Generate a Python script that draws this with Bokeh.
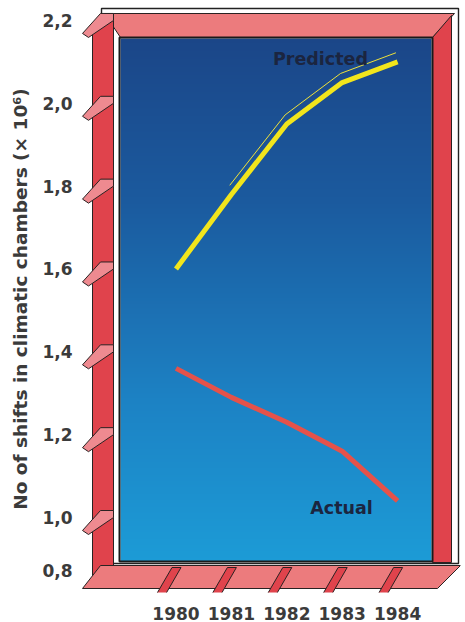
import numpy as np
from bokeh.plotting import figure
from bokeh.models import Range1d, FixedTicker
from bokeh.core.properties import value
from bokeh.embed import file_html
from bokeh.resources import INLINE

# ---------------- data ----------------
years = [1980, 1981, 1982, 1983, 1984]
year_labels = ["1980", "1981", "1982", "1983", "1984"]
predicted = [1.60, 1.78, 1.95, 2.05, 2.10]
actual = [1.36, 1.29, 1.23, 1.16, 1.04]
y_tick_values = [0.8, 1.0, 1.2, 1.4, 1.6, 1.8, 2.0, 2.2]
y_tick_labels = ["0,8", "1,0", "1,2", "1,4", "1,6", "1,8", "2,0", "2,2"]
series_names = ["Predicted", "Actual"]
y_title = "No of shifts in climatic chambers (\u00d7 10\u2076)"

# ---------------- layout helpers (pixel -> data) ----------------
PX_PER_YEAR = 55.4
PX_1980 = 175.5
PX_PER_UNIT = 414.2
PY_ONE = 517.0


def X(px):
    return 1980 + (px - PX_1980) / PX_PER_YEAR


def Y(py):
    return 1.0 + (PY_ONE - py) / PX_PER_UNIT


FLOOR_VALUE = Y(570)  # the "0,8" sits on the floor of the box

FONT = "DejaVu Sans"
TXT = "#3b3b3b"
EDGE = "#2a2222"
RED = "#e0434c"
PINK = "#ec7b7d"
SHELF = "#ee8a90"

p = figure(width=465, height=622,
           x_range=Range1d(X(80), X(460)), y_range=Range1d(Y(592), Y(5)),
           output_backend="svg", toolbar_location=None,
           min_border_left=80, min_border_right=5, min_border_top=5,
           min_border_bottom=30, outline_line_color=None,
           background_fill_color="white", border_fill_color="white")
p.grid.visible = False


def poly(pts, fill, line=EDGE, lw=1.0):
    p.patch([X(a) for a, b in pts], [Y(b) for a, b in pts],
            fill_color=fill, line_color=line, line_width=lw)


# outer border
poly([(101, 8), (458, 8), (458, 563), (101, 563)], "white", "#222222", 1.4)
# top band
poly([(104, 13), (454, 13), (432, 37), (120, 37)], PINK)
# right pillar
poly([(432, 37), (451, 15), (451, 562), (432, 562)], RED)

# blue gradient panel (single image, rows from bottom to top)
stops_py = [38, 200, 400, 560]
stops_rgb = [(0x1b, 0x46, 0x88), (0x1b, 0x5a, 0x9e),
             (0x1c, 0x82, 0xc4), (0x1c, 0x9b, 0xd6)]
top_px, bot_px = 38.0, 561.0
rows = int(bot_px - top_px)
img = np.zeros((rows, 2), dtype=np.uint32)
view = img.view(dtype=np.uint8).reshape((rows, 2, 4))
for r in range(rows):
    py = bot_px - r - 0.5
    c = [np.interp(py, stops_py, [s[i] for s in stops_rgb]) for i in range(3)]
    view[r, :, 0] = int(round(c[0]))
    view[r, :, 1] = int(round(c[1]))
    view[r, :, 2] = int(round(c[2]))
    view[r, :, 3] = 255
p.image_rgba(image=[img], x=X(120), y=Y(bot_px),
             dw=X(431) - X(120), dh=Y(top_px) - Y(bot_px))
poly([(119, 37), (432, 37), (432, 561), (119, 561)], None, "#1a1a1a", 2)

# left pillar
poly([(92, 30), (103, 15), (113, 15), (113, 585), (92, 585)], RED)

# floor
poly([(100, 565), (460, 565), (437, 588), (82, 588)], PINK)

# left shelves at the ticks
for v in y_tick_values[1:]:
    yt = PY_ONE - (v - 1.0) * PX_PER_UNIT
    poly([(100, yt - 7), (113, yt - 7), (113, yt), (88, yt + 17), (82, yt + 13)],
         SHELF)

# bottom shelves at the years
for yr in years:
    xp = PX_1980 + (yr - 1980) * PX_PER_YEAR
    poly([(xp - 4, 567), (xp + 5, 567), (xp - 14, 600), (xp - 22, 598)], RED)

# data lines
p.line([y - 0.03 for y in years[1:]], [v + 0.022 for v in predicted[1:]],
       line_color="#efe23a", line_width=1)
p.line(years, predicted, line_color="#f2e51c", line_width=5, line_join="round")
p.line(years, actual, line_color="#e5524a", line_width=5, line_join="round")

p.text(x=[X(320), X(341)], y=[Y(58), Y(507)], text=series_names,
       text_font=value(FONT), text_font_style="bold", text_font_size="17.5px",
       text_color="#1b2540", text_align="center", text_baseline="middle")

# axes
ytick_pos = [FLOOR_VALUE if v == 0.8 else v for v in y_tick_values]
p.yaxis.ticker = FixedTicker(ticks=ytick_pos)
p.yaxis.major_label_overrides = {t: l for t, l in zip(ytick_pos, y_tick_labels)}
p.xaxis.ticker = FixedTicker(ticks=years)
p.xaxis.major_label_overrides = {y: l for y, l in zip(years, year_labels)}
for ax in (p.xaxis, p.yaxis):
    ax.axis_line_color = None
    ax.major_tick_line_color = None
    ax.minor_tick_line_color = None
    ax.major_label_text_font = FONT
    ax.major_label_text_font_style = "bold"
    ax.major_label_text_font_size = "17px"
    ax.major_label_text_color = TXT
p.yaxis.major_label_standoff = 2
p.xaxis.major_label_standoff = 8
p.yaxis.axis_label = y_title
p.yaxis.axis_label_text_font = FONT
p.yaxis.axis_label_text_font_style = "bold"
p.yaxis.axis_label_text_font_size = "18.5px"
p.yaxis.axis_label_text_color = TXT
p.yaxis.axis_label_standoff = 8

open("out.html", "w").write(file_html(p, INLINE))
